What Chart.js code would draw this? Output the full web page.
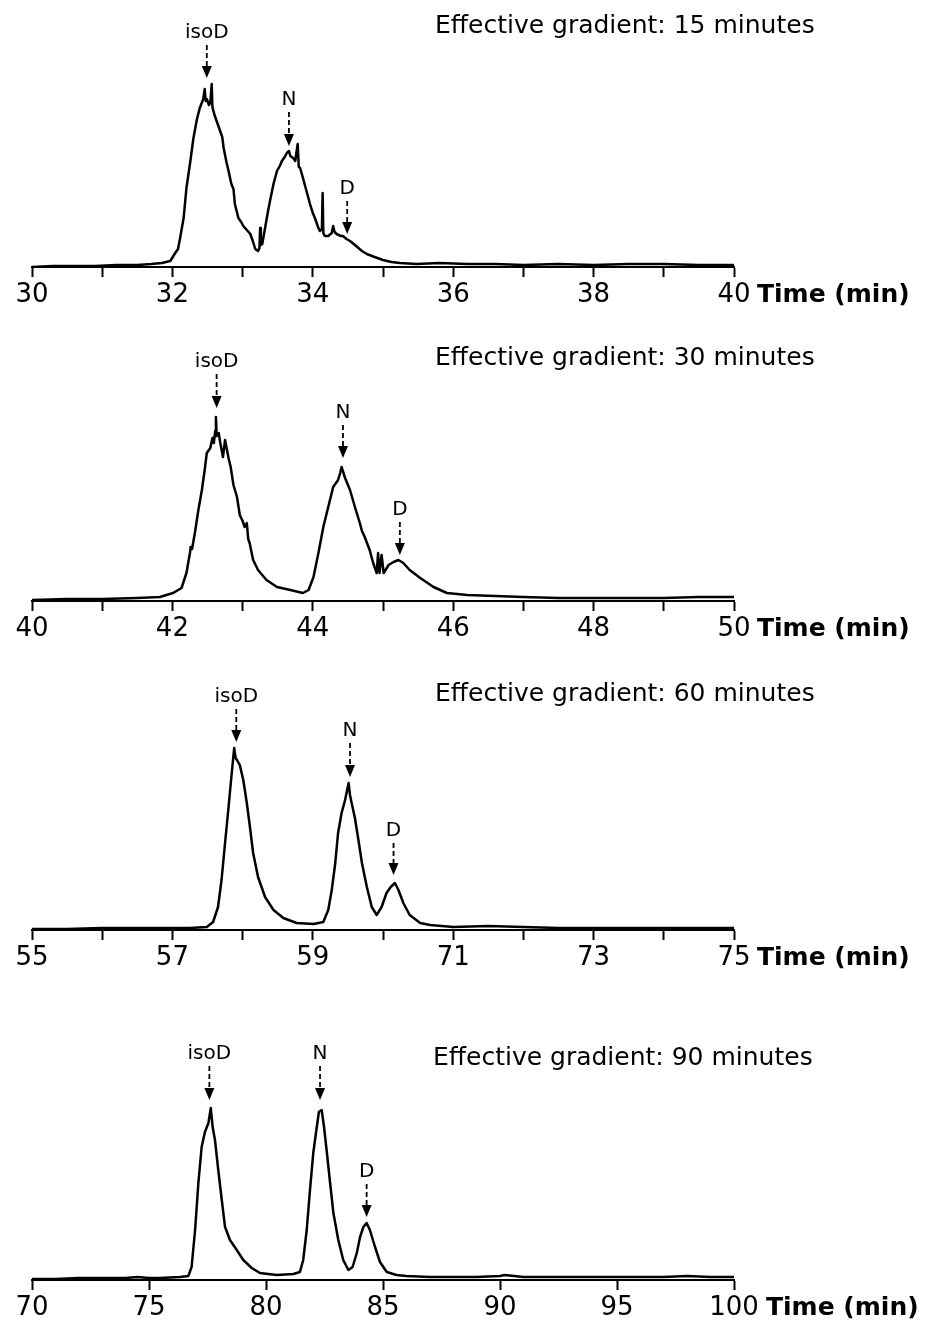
<!DOCTYPE html>
<html>
<head>
<meta charset="utf-8">
<script src="https://cdn.jsdelivr.net/npm/chart.js@4.4.1/dist/chart.umd.min.js"></script>
<style>
  html, body { margin: 0; padding: 0; background: #fff; }
  body { width: 926px; height: 1320px; position: relative; overflow: hidden;
         font-family: "DejaVu Sans", Verdana, sans-serif; color: #000; }
  .panel { position: absolute; left: 0; width: 926px; height: 300px; }
  .gradient { position: absolute; left: 435px; font-size: 25px; line-height: 30px; white-space: nowrap; }
  .unit { position: absolute; left: 757px; font-size: 25px; font-weight: bold; line-height: 30px; white-space: nowrap; }
</style>
</head>
<body>
<script>
// ---- Chromatogram traces: retention time (min) and detector signal ----
const time15 = [30.0,30.3,30.6,30.9,31.2,31.5,31.7,31.85,31.97,32.04,32.08,32.11,32.16,32.2,32.25,32.3,32.35,32.39,32.44,32.46,32.475,32.49,32.52,32.54,32.56,32.57,32.6,32.63,32.66,32.68,32.71,32.73,32.77,32.8,32.84,32.87,32.89,32.94,32.98,33.01,33.06,33.11,33.15,33.18,33.22,33.24,33.25,33.26,33.28,33.32,33.36,33.39,33.44,33.49,33.53,33.56,33.6,33.63,33.66,33.68,33.72,33.75,33.785,33.8,33.82,33.86,33.91,33.96,34.0,34.03,34.08,34.1,34.13,34.14,34.15,34.17,34.22,34.27,34.29,34.31,34.34,34.4,34.43,34.48,34.53,34.6,34.65,34.7,34.77,34.88,35.0,35.12,35.24,35.48,35.8,36.2,36.6,37.0,37.5,38.0,38.5,39.0,39.5,40.0];
const signal15 = [0,1,1,1,2,2,3,4,6,14,18,29,49,79,103,129,148,159,168,178,166,168,162,164,183,160,152,146,140,136,130,119,105,96,83,78,63,49,45,41,37,33,25,18,16,19,39,22,23,39,55,66,83,96,101,106,110,114,116,111,109,106,123,100,99,89,76,63,54,49,39,36,38,74,34,31,31,34,41,35,33,31,31,28,26,22,19,16,13,10,7,5,4,3,4,3,3,2,3,2,3,3,2,2];

const time30 = [40.0,40.5,41.0,41.5,41.82,42.01,42.13,42.2,42.25,42.26,42.28,42.32,42.37,42.42,42.46,42.49,42.54,42.57,42.59,42.61,42.62,42.63,42.66,42.68,42.72,42.75,42.8,42.83,42.87,42.92,42.96,43.0,43.03,43.06,43.08,43.1,43.15,43.22,43.34,43.49,43.68,43.86,43.94,44.01,44.08,44.15,44.22,44.29,44.36,44.39,44.41,44.46,44.53,44.6,44.67,44.7,44.74,44.81,44.86,44.91,44.93,44.95,44.98,45.01,45.08,45.15,45.22,45.29,45.38,45.53,45.72,45.91,46.2,46.6,47.0,47.5,48.0,48.5,49.0,49.5,50.0];
const signal30 = [1,2,2,3,4,8,13,28,48,54,52,68,91,111,131,148,153,163,158,170,184,165,168,159,144,161,143,134,116,104,86,80,74,78,62,58,41,31,21,14,11,8,11,24,48,74,94,114,121,128,134,123,111,94,78,70,64,51,38,28,48,28,46,28,36,39,41,38,31,23,14,8,6,5,4,3,3,3,3,4,4];

const time60 = [55.0,55.5,56.0,56.5,57.0,57.25,57.49,57.58,57.65,57.7,57.75,57.8,57.84,57.88,57.9,57.92,57.96,58.01,58.06,58.11,58.15,58.22,58.32,58.44,58.58,58.77,59.01,59.15,59.22,59.27,59.32,59.36,59.41,59.46,59.51,59.53,59.55,59.6,59.65,59.7,59.77,59.84,59.91,59.98,60.05,60.11,60.17,60.22,60.29,60.38,60.53,60.67,61.0,61.5,62.0,62.5,63.0,64.0,65.0];
const signal60 = [1,1,2,2,2,2,3,8,23,50,87,123,153,182,172,170,165,150,127,100,77,53,33,20,12,7,6,8,20,40,67,97,117,130,147,135,128,112,90,67,43,23,15,23,37,43,47,40,27,15,7,5,3,4,3,2,2,2,2];

const time90 = [70,71,72,73,74,74.5,75,75.47,76.32,76.68,76.82,76.97,77.11,77.25,77.39,77.54,77.64,77.72,77.82,77.96,78.11,78.25,78.46,78.75,79.03,79.39,79.74,80.46,81.17,81.45,81.59,81.74,81.88,82.02,82.17,82.26,82.38,82.48,82.59,82.74,82.88,83.09,83.3,83.52,83.7,83.88,84.02,84.16,84.3,84.44,84.66,84.87,85.16,85.58,86,87,88,89,90,90.2,91,92,94,95,97,98,99,100];
const signal90 = [1,1,2,2,2,3,2,2,3,4,13,50,97,133,148,157,172,153,140,110,80,53,40,30,20,12,7,5,6,8,20,50,90,127,153,168,170,153,130,97,67,40,20,10,13,27,43,53,57,50,33,18,8,5,4,3,3,3,4,5,3,3,3,3,3,4,3,3];

// ---- x-axis tick labels (every second tick on the 1-min grids) ----
const ticks15 = ['30','32','34','36','38','40'];
const ticks30 = ['40','42','44','46','48','50'];
const ticks60 = ['55','57','59','71','73','75'];
const ticks90 = ['70','75','80','85','90','95','100'];

// ---- Peak markers: name, retention time, arrow tip level, label level ----
const peakNames = ['isoD', 'N', 'D'];
const peakTime15 = [32.49, 33.66, 34.49];
const peakTip15 = [189, 121, 33];
const peakLabel15 = [234, 167, 78];
const peakTime30 = [42.63, 44.43, 45.24];
const peakTip30 = [193, 143, 46];
const peakLabel30 = [239, 188, 91];
const peakTime60 = [57.91, 59.53, 60.15];
const peakTip60 = [188, 153, 55];
const peakLabel60 = [233, 199, 99];
const peakTime90 = [77.58, 82.31, 84.30];
const peakTip90 = [180, 180, 63];
const peakLabel90 = [226, 226, 108];

const gradientTitles = ['Effective gradient: 15 minutes', 'Effective gradient: 30 minutes',
                        'Effective gradient: 60 minutes', 'Effective gradient: 90 minutes'];

// ---- layout of the four stacked panels ----
const FONT = '"DejaVu Sans", Verdana, sans-serif';
const panels = [
  { axisY: 267, titleY: 25, titleX: 435, unitX: 757, min: 30, max: 40, step: 1, labelEvery: 2, labels: ticks15,
    t: time15, s: signal15, pk: [peakTime15, peakTip15, peakLabel15] },
  { axisY: 601, titleY: 357, titleX: 435, unitX: 757, min: 40, max: 50, step: 1, labelEvery: 2, labels: ticks30,
    t: time30, s: signal30, pk: [peakTime30, peakTip30, peakLabel30] },
  { axisY: 930, titleY: 693, titleX: 435, unitX: 757, min: 55, max: 65, step: 1, labelEvery: 2, labels: ticks60,
    t: time60, s: signal60, pk: [peakTime60, peakTip60, peakLabel60] },
  { axisY: 1280, titleY: 1057, titleX: 433, unitX: 766, min: 70, max: 100, step: 5, labelEvery: 1, labels: ticks90,
    t: time90, s: signal90, pk: [peakTime90, peakTip90, peakLabel90] }
];

// Dashed arrows with labels pointing at each peak
const peakArrows = {
  id: 'peakArrows',
  afterDatasetsDraw(chart, args, opts) {
    const { ctx, scales: { x, y } } = chart;
    const [times, tips, labs] = opts.peaks;
    ctx.save();
    peakNames.forEach((name, i) => {
      const px = x.getPixelForValue(times[i]);
      const tipY = y.getPixelForValue(tips[i]);
      const labY = y.getPixelForValue(labs[i]);
      ctx.fillStyle = '#000';
      ctx.font = '20px ' + FONT;
      ctx.textAlign = 'center';
      ctx.textBaseline = 'middle';
      ctx.fillText(name, px, labY);
      ctx.strokeStyle = '#000';
      ctx.lineWidth = 1.8;
      ctx.setLineDash([5, 3]);
      ctx.beginPath();
      ctx.moveTo(px, labY + 12);
      ctx.lineTo(px, tipY - 10);
      ctx.stroke();
      ctx.setLineDash([]);
      ctx.beginPath();
      ctx.moveTo(px - 5, tipY - 12);
      ctx.lineTo(px + 5, tipY - 12);
      ctx.lineTo(px, tipY);
      ctx.closePath();
      ctx.fill();
    });
    ctx.restore();
  }
};

panels.forEach((p, idx) => {
  const wrap = document.createElement('div');
  wrap.className = 'panel';
  wrap.style.top = (p.axisY - 260) + 'px';
  const cv = document.createElement('canvas');
  cv.width = 926; cv.height = 300;
  wrap.appendChild(cv);
  document.body.appendChild(wrap);

  const title = document.createElement('div');
  title.className = 'gradient';
  title.style.top = (p.titleY - 15) + 'px';
  title.style.left = p.titleX + 'px';
  title.textContent = gradientTitles[idx];
  document.body.appendChild(title);

  const unit = document.createElement('div');
  unit.className = 'unit';
  unit.style.top = (p.axisY + 27 - 15) + 'px';
  unit.style.left = p.unitX + 'px';
  unit.textContent = 'Time (min)';
  document.body.appendChild(unit);

  new Chart(cv, {
    type: 'line',
    data: {
      datasets: [{
        data: p.t.map((v, i) => ({ x: v, y: p.s[i] })),
        borderColor: '#000',
        borderWidth: 2.5,
        borderJoinStyle: 'round',
        pointRadius: 0,
        tension: 0,
        fill: false
      }]
    },
    options: {
      responsive: false,
      animation: false,
      devicePixelRatio: 1,
      layout: { padding: { left: 32, right: 192, top: 10, bottom: 0 } },
      plugins: { legend: { display: false }, tooltip: { enabled: false },
                 peakArrows: { peaks: p.pk } },
      scales: {
        x: {
          type: 'linear', min: p.min, max: p.max,
          afterFit(s) { s.height = 40; },
          border: { display: true, color: '#000', width: 2 },
          grid: { display: true, drawOnChartArea: false, drawTicks: true,
                  tickLength: 10, tickWidth: 2, tickColor: '#000', color: '#000' },
          ticks: {
            stepSize: p.step, autoSkip: false, maxRotation: 0, padding: 3,
            color: '#000', font: { family: FONT, size: 26 },
            callback(value, index) {
              return index % p.labelEvery === 0 ? p.labels[index / p.labelEvery] : '';
            }
          }
        },
        y: { display: false, min: 0, max: 250 }
      }
    },
    plugins: [peakArrows]
  });
});
</script>
</body>
</html>
